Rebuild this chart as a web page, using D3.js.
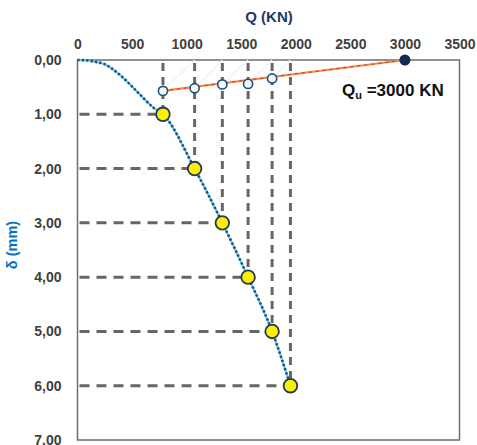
<!DOCTYPE html>
<html><head><meta charset="utf-8">
<script src="https://cdn.jsdelivr.net/npm/d3@7"></script>
<style>html,body{margin:0;padding:0;background:#fff;}svg{display:block;}</style>
</head><body>
<svg id="c" width="477" height="445"></svg>
<script>
// ---- data ----
const xTicks = [0, 500, 1000, 1500, 2000, 2500, 3000, 3500];
const yTicks = [0, 1, 2, 3, 4, 5, 6, 7];
const loadQ = [783, 1073, 1327, 1563, 1783, 1951];      // yellow points Q (KN)
const loadD = [1, 2, 3, 4, 5, 6];                        // settlement δ (mm)
const curveQ = [0, 100, 178, 239, 316, 392, 545, 697, 783, 1073, 1327, 1563, 1783, 1951];
const curveD = [0, 0.01, 0.04, 0.07, 0.16, 0.28, 0.58, 0.88, 1, 2, 3, 4, 5, 6];
const offQ = [783, 1073, 1327, 1563, 1783];              // hollow points
const offD = [0.57, 0.52, 0.45, 0.44, 0.34];
const quQ = 3000, quD = 0;
const quLabel = "3000 KN";

// ---- layout ----
const svg = d3.select("#c");
const L = 77.5, R = 459.5, T = 60, B = 440;
const x = d3.scaleLinear().domain([0, 3500]).range([L, R]);
const y = d3.scaleLinear().domain([0, 7]).range([T, B]);
const fmt = d => d.toFixed(2).replace(".", ",");
const FF = "Liberation Sans, Arial, sans-serif";

// axes labels (top & left)
const xAxis = svg.append("g").attr("transform", `translate(0,${T})`)
  .call(d3.axisTop(x).tickValues(xTicks).tickSize(0).tickPadding(11).tickFormat(d3.format("d")));
xAxis.select(".domain").remove();
xAxis.selectAll("text").attr("font-family", FF)
  .attr("font-size", 14).attr("font-weight", "bold").attr("fill", "#404040");

const yAxis = svg.append("g").attr("transform", `translate(${L},0)`)
  .call(d3.axisLeft(y).tickValues(yTicks).tickSize(0).tickPadding(16).tickFormat(fmt));
yAxis.select(".domain").remove();
yAxis.selectAll("text").attr("font-family", FF)
  .attr("font-size", 14).attr("font-weight", "bold").attr("fill", "#404040");

// titles
svg.append("text").attr("x", (x(0) + x(3500)) / 2 + 0.5).attr("y", 22)
  .attr("text-anchor", "middle").attr("font-family", FF)
  .attr("font-size", 15).attr("font-weight", "bold").attr("fill", "#1f3864").text("Q (KN)");
svg.append("text").attr("transform", "translate(17,245) rotate(-90)")
  .attr("text-anchor", "middle").attr("font-family", FF)
  .attr("font-size", 14.5).attr("font-weight", "bold").attr("fill", "#0070c0").text("δ (mm)");

// frame
svg.append("rect").attr("x", L).attr("y", T).attr("width", R - L).attr("height", B - T)
  .attr("fill", "none").attr("stroke", "#6e6e6e").attr("stroke-width", 1.5);

const pts = loadQ.map((q, i) => ({q, d: loadD[i]}));
const offPts = offQ.map((q, i) => ({q, d: offD[i]}));

// dashed guide lines
svg.append("g").selectAll("line.h").data(pts).join("line")
  .attr("x1", x(0) + 2).attr("x2", p => x(p.q)).attr("y1", p => y(p.d)).attr("y2", p => y(p.d))
  .attr("stroke", "#666").attr("stroke-width", 3).attr("stroke-dasharray", "10,7");
svg.append("g").selectAll("line.v").data(pts).join("line")
  .attr("x1", p => x(p.q)).attr("x2", p => x(p.q)).attr("y1", y(0) + 3).attr("y2", p => y(p.d))
  .attr("stroke", "#666").attr("stroke-width", 3).attr("stroke-dasharray", "8,6");

// faint cyan connectors: hollow point -> top of next guide
svg.append("g").selectAll("line.f").data(offPts).join("line")
  .attr("x1", p => x(p.q)).attr("y1", p => y(p.d))
  .attr("x2", (p, i) => x(loadQ[i + 1])).attr("y2", y(0))
  .attr("stroke", "#e4f6ff").attr("stroke-width", 1.2);

// Qu line
const quLine = [offPts[0], {q: quQ, d: quD}];
const lg = d3.line().x(p => x(p.q)).y(p => y(p.d));
svg.append("path").attr("d", lg(quLine)).attr("fill", "none").attr("stroke", "#f4894a").attr("stroke-width", 2.2);
svg.append("path").attr("d", lg(quLine)).attr("fill", "none").attr("stroke", "#c0392b").attr("stroke-width", 1).attr("stroke-dasharray", "3,4");

// load-settlement curve
const cpts = curveQ.map((q, i) => ({q, d: curveD[i]}));
const cg = d3.line().x(p => x(p.q)).y(p => y(p.d)).curve(d3.curveMonotoneX);
svg.append("path").attr("d", cg(cpts)).attr("fill", "none").attr("stroke", "#5bc8f5").attr("stroke-width", 2);
svg.append("path").attr("d", cg(cpts)).attr("fill", "none").attr("stroke", "#1f4e79")
  .attr("stroke-width", 2.6).attr("stroke-dasharray", "2.2,2.2");

// hollow points
svg.append("g").selectAll("circle").data(offPts).join("circle")
  .attr("cx", p => x(p.q)).attr("cy", p => y(p.d)).attr("r", 4.6)
  .attr("fill", "#f3f8fb").attr("stroke", "#1f4e79").attr("stroke-width", 1.6);

// Qu point
svg.append("circle").attr("cx", x(quQ)).attr("cy", y(quD)).attr("r", 5.5).attr("fill", "#132a55");

// yellow points
svg.append("g").selectAll("circle").data(pts).join("circle")
  .attr("cx", p => x(p.q)).attr("cy", p => y(p.d)).attr("r", 6.8)
  .attr("fill", "#ffee00").attr("stroke", "#1f3a5a").attr("stroke-width", 1.8);

// Qu label
const t = svg.append("text").attr("x", 342).attr("y", 96)
  .attr("font-family", FF).attr("font-size", 17)
  .attr("font-weight", "bold").attr("fill", "#111");
t.append("tspan").text("Q");
t.append("tspan").attr("font-size", 11).attr("dy", 3).text("u");
t.append("tspan").attr("dy", -3).text(" =" + quLabel);
</script>
</body></html>
